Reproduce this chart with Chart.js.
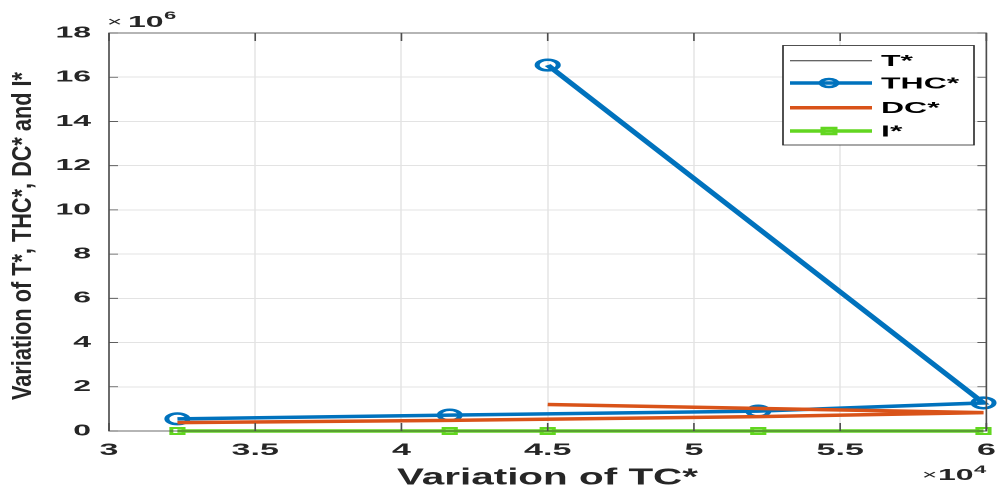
<!DOCTYPE html>
<html>
<head>
<meta charset="utf-8">
<script src="https://cdn.jsdelivr.net/npm/chart.js@4/dist/chart.umd.min.js"></script>
<style>
  html, body { margin: 0; padding: 0; background: #fff; overflow: hidden; }
  /* the reference picture is stretched twice as wide, so the chart is drawn at half width */
  #wrap { width: 501px; height: 486px; transform: scaleX(2); transform-origin: 0 0; }
</style>
</head>
<body>
<div id="wrap"><canvas id="grafik" width="501" height="486"></canvas></div>
<script>
// x values (TC*) in the order the lines were drawn
const tcValues = [32340, 41650, 52200, 59900, 45000];
const tValues = [0, 0, 0, 0, 0];
const thcValues = [550000, 720000, 900000, 1270000, 16550000];
const dcValues = [380000, 480000, 650000, 830000, 1200000];
const iValues = [0, 0, 0, 0, 0];

const xTicks = [30000, 35000, 40000, 45000, 50000, 55000, 60000];
const yTicks = [0, 2e6, 4e6, 6e6, 8e6, 10e6, 12e6, 14e6, 16e6, 18e6];

const fontName = "'Liberation Sans', Arial, Helvetica, sans-serif";
const textColor = '#262626';

function points(ys)
{
    return tcValues.map(function(x, i) { return { x: x, y: ys[i] }; });
}

const series =
[
    { label: 'T*', data: tValues, color: '#333333', width: 1, marker: false },
    { label: 'THC*', data: thcValues, color: '#0072BD', width: 3.5, marker: 'circle' },
    { label: 'DC*', data: dcValues, color: '#D95319', width: 3.5, marker: false },
    { label: 'I*', data: iValues, color: '#62D620', width: 3.5, marker: 'rect' }
];

// text squeezed or widened to a given width
function fitText(ctx, text, x, y, width, yScale)
{
    const w = ctx.measureText(text).width;
    ctx.save();
    ctx.translate(x, y);
    ctx.scale(width / w, yScale || 1);
    ctx.fillText(text, 0, 0);
    ctx.restore();
}

// box, inner ticks, titles, exponents and legend the matlab way
const matlabStyle =
{
    id: 'matlabStyle',
    afterDatasetsDraw: function(chart)
    {
        const ctx = chart.ctx;
        const a = chart.chartArea;
        const xs = chart.scales.x, ys = chart.scales.y;
        ctx.save();

        ctx.strokeStyle = '#4d4d4d';
        ctx.lineWidth = 0.8;
        ctx.strokeRect(a.left, a.top, a.right - a.left, a.bottom - a.top);

        ctx.beginPath();
        xTicks.forEach(function(v)
        {
            const px = xs.getPixelForValue(v);
            ctx.moveTo(px, a.bottom); ctx.lineTo(px, a.bottom - 8);
            ctx.moveTo(px, a.top); ctx.lineTo(px, a.top + 8);
        });
        yTicks.forEach(function(v)
        {
            const py = ys.getPixelForValue(v);
            ctx.moveTo(a.left, py); ctx.lineTo(a.left + 4.5, py);
            ctx.moveTo(a.right, py); ctx.lineTo(a.right - 4.5, py);
        });
        ctx.stroke();

        ctx.fillStyle = textColor;
        ctx.textBaseline = 'alphabetic';

        // x title
        ctx.font = 'bold 23px ' + fontName;
        ctx.textAlign = 'left';
        fitText(ctx, 'Variation of TC*', 273.5 - 75, 484.5, 150.5);

        // y title, rotated
        ctx.save();
        ctx.translate(11.5, 236);
        ctx.rotate(-Math.PI / 2);
        ctx.font = 'bold 22px ' + fontName;
        ctx.textAlign = 'center';
        ctx.textBaseline = 'middle';
        const tw = ctx.measureText('Variation of T*, THC*, DC* and I*').width;
        ctx.scale(328 / tw, 0.64);
        ctx.fillText('Variation of T*, THC*, DC* and I*', 0, 0);
        ctx.restore();

        // exponents
        ctx.textAlign = 'left';
        ctx.textBaseline = 'alphabetic';
        ctx.font = '13px ' + fontName;
        ctx.fillText('\u00d7', 53.5, 26);
        ctx.font = 'bold 16px ' + fontName;
        ctx.fillText('10', 64, 27);
        ctx.font = 'bold 11px ' + fontName;
        ctx.fillText('6', 82, 19);

        ctx.font = '13px ' + fontName;
        ctx.fillText('\u00d7', 461, 479);
        ctx.font = 'bold 16px ' + fontName;
        ctx.fillText('10', 469, 480);
        ctx.font = 'bold 11px ' + fontName;
        ctx.fillText('4', 487, 473);

        // legend
        const lx = 391.5, ly = 45.5, lw = 95.5, lh = 99.5;
        const rows = [60.7, 83, 107.7, 131];
        ctx.fillStyle = '#ffffff';
        ctx.fillRect(lx, ly, lw, lh);
        ctx.strokeStyle = '#262626';
        ctx.lineWidth = 0.8;
        ctx.strokeRect(lx, ly, lw, lh);
        series.forEach(function(s, i)
        {
            const yy = rows[i];
            ctx.strokeStyle = s.color;
            ctx.lineWidth = s.width;
            ctx.beginPath();
            ctx.moveTo(lx + 3.5, yy);
            ctx.lineTo(lx + 44.5, yy);
            ctx.stroke();
            ctx.lineWidth = 2.5;
            if (s.marker === 'circle')
            {
                ctx.beginPath();
                ctx.arc(lx + 23, yy, 4, 0, Math.PI * 2);
                ctx.stroke();
            }
            else if (s.marker === 'rect')
            {
                ctx.strokeRect(lx + 20, yy - 3, 6, 6);
            }
            ctx.fillStyle = '#000000';
            ctx.font = 'bold 16px ' + fontName;
            ctx.textBaseline = 'middle';
            ctx.fillText(s.label, lx + 49, yy + 1);
        });
        ctx.restore();
    }
};

const data =
{
    datasets: series.map(function(s, i)
    {
        return {
            label: s.label,
            data: points(s.data),
            showLine: true,
            clip: false,
            borderColor: s.color,
            backgroundColor: s.color,
            borderWidth: s.width,
            pointStyle: s.marker || 'circle',
            pointRadius: s.marker ? (s.marker === 'rect' ? 4.3 : 5.3) : 0,
            pointBorderWidth: s.marker === 'rect' ? 2 : 2.5,
            pointBackgroundColor: 'rgba(255,255,255,0)',
            pointBorderColor: s.color,
            order: 3 - i
        };
    })
};

let grafik = new Chart(document.getElementById('grafik'),
{
    type: 'scatter',
    data: data,
    plugins: [matlabStyle],
    options: {
        responsive: false,
        animation: false,
        devicePixelRatio: 2,
        layout: { padding: { top: 33, right: 2.5, left: 0, bottom: 0 } },
        plugins: { legend: { display: false }, tooltip: { enabled: false } },
        scales: {
            x: {
                type: 'linear',
                min: 30000, max: 60000,
                afterBuildTicks: function(s) { s.ticks = xTicks.map(function(v) { return { value: v }; }); },
                afterFit: function(s)
                {
                    s.height = 55;
                    s.paddingLeft = 0;
                    s.paddingRight = 0;
                },
                grid: { color: '#dedede', lineWidth: 0.6, drawTicks: false },
                border: { display: false },
                ticks: {
                    padding: 9,
                    color: textColor,
                    font: { family: fontName, size: 17, weight: 'bold' },
                    maxRotation: 0,
                    callback: function(v) { return String(v / 10000); }
                }
            },
            y: {
                type: 'linear',
                min: 0, max: 18e6,
                afterBuildTicks: function(s) { s.ticks = yTicks.map(function(v) { return { value: v }; }); },
                afterFit: function(s)
                {
                    s.width = 54.5;
                    s.paddingTop = 0;
                    s.paddingBottom = 0;
                },
                grid: { color: '#e3e3e3', lineWidth: 1, drawTicks: false },
                border: { display: false },
                ticks: {
                    padding: 9,
                    color: textColor,
                    font: { family: fontName, size: 16, weight: 'bold' },
                    callback: function(v) { return String(v / 1e6); }
                }
            }
        }
    }
});
</script>
</body>
</html>
